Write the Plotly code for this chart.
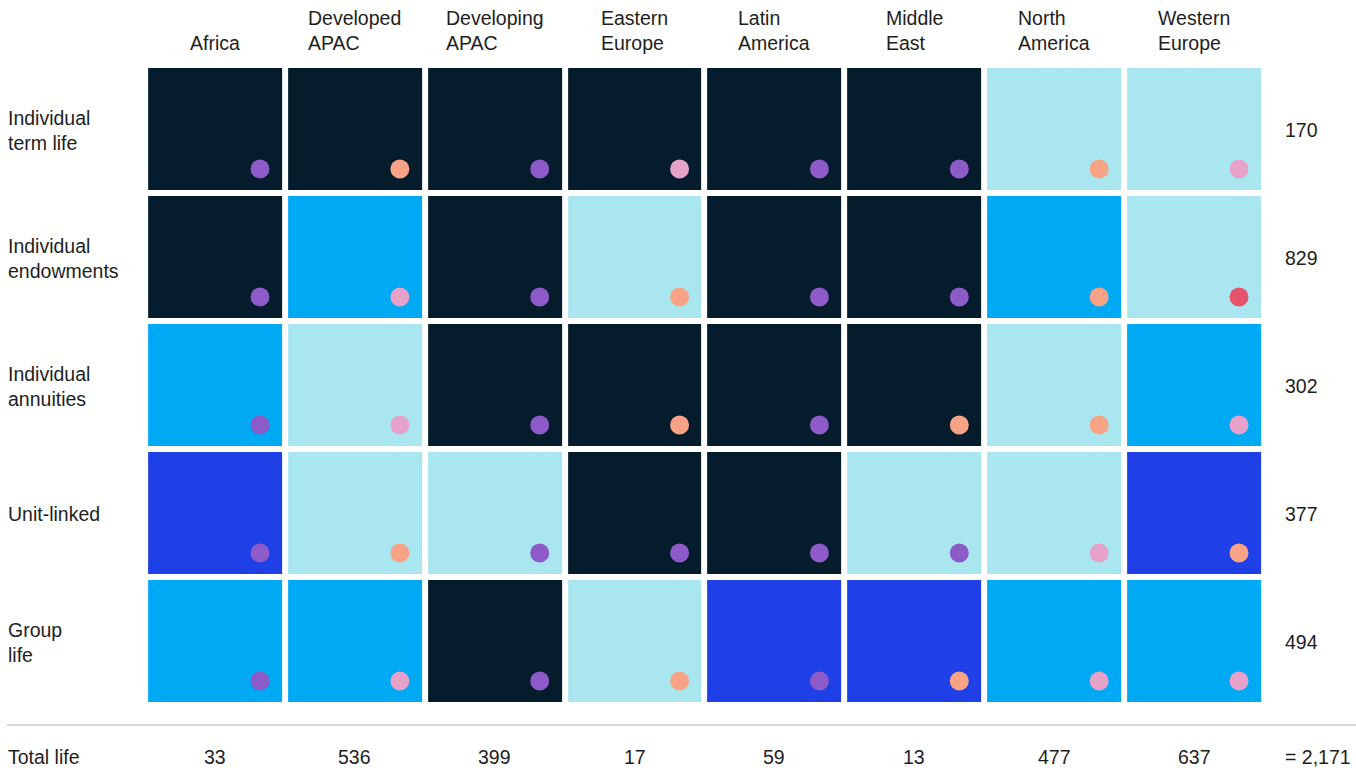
import plotly.graph_objects as go

regions = ["Africa", "Developed<br>APAC", "Developing<br>APAC", "Eastern<br>Europe",
           "Latin<br>America", "Middle<br>East", "North<br>America", "Western<br>Europe"]
products = ["Individual<br>term life", "Individual<br>endowments", "Individual<br>annuities",
            "Unit-linked", "Group<br>life"]
product_totals = ["170", "829", "302", "377", "494"]
region_totals = ["33", "536", "399", "17", "59", "13", "477", "637"]
grand_total = "= 2,171"

# cell category: 0 dark, 1 light, 2 cyan, 3 blue
cells = [
    [0, 0, 0, 0, 0, 0, 1, 1],
    [0, 2, 0, 1, 0, 0, 2, 1],
    [2, 1, 0, 0, 0, 0, 1, 2],
    [3, 1, 1, 0, 0, 1, 1, 3],
    [2, 2, 0, 1, 3, 3, 2, 2],
]
# dot category: P purple, S salmon, K pink, R red
dots = [
    ["P", "S", "P", "K", "P", "P", "S", "K"],
    ["P", "K", "P", "S", "P", "P", "S", "R"],
    ["P", "K", "P", "S", "P", "S", "S", "K"],
    ["P", "S", "P", "P", "P", "P", "K", "S"],
    ["P", "K", "P", "S", "P", "S", "K", "K"],
]

cell_colors = ["#051C2C", "#AAE6F0", "#00A9F4", "#1F40E6"]
dot_colors = {"P": "#8C5BC8", "S": "#F8A385", "K": "#E6A2C8", "R": "#E5546C"}
text_color = "#1E1E1E"
FONT = "Liberation Sans, Arial, sans-serif"
FS = 19.5

W, H = 1356, 770
px_x = 139.86
px_y = 128.0
x0 = -215 / px_x
x1 = x0 + W / px_x
ytop = -129 / px_y
ybot = ytop + H / px_y

fig = go.Figure()

colorscale = [[0, cell_colors[0]], [1/3, cell_colors[1]], [2/3, cell_colors[2]], [1, cell_colors[3]]]
fig.add_trace(go.Heatmap(
    z=cells, x=list(range(len(regions))), y=list(range(len(products))),
    colorscale=colorscale, zmin=0, zmax=3, showscale=False,
    xgap=6, ygap=6, hoverinfo="skip"))

dx = 45 / px_x
dy = 40 / px_y
for key, col in dot_colors.items():
    xs, ys = [], []
    for j, row in enumerate(dots):
        for i, d in enumerate(row):
            if d == key:
                xs.append(i + dx)
                ys.append(j + dy)
    fig.add_trace(go.Scatter(x=xs, y=ys, mode="markers",
                             marker=dict(size=19, color=col, line=dict(width=0)),
                             hoverinfo="skip", showlegend=False))

annotations = []
for i, r in enumerate(regions):
    annotations.append(dict(x=i, y=ytop + 56 / px_y, xref="x", yref="y", text=r,
                            showarrow=False, xanchor="center", yanchor="bottom", align="left",
                            font=dict(size=FS, color=text_color, family=FONT)))
    annotations.append(dict(x=i, y=ytop + 757 / px_y, xref="x", yref="y", text=region_totals[i],
                            showarrow=False, xanchor="center", yanchor="middle",
                            font=dict(size=FS, color=text_color, family=FONT)))
for j, p in enumerate(products):
    annotations.append(dict(x=6 / W, y=j + 1 / px_y, xref="paper", yref="y", text=p,
                            showarrow=False, xanchor="left", yanchor="middle", align="left",
                            font=dict(size=FS, color=text_color, family=FONT)))
    annotations.append(dict(x=1283 / W, y=j + 1 / px_y, xref="paper", yref="y", text=product_totals[j],
                            showarrow=False, xanchor="left", yanchor="middle", align="left",
                            font=dict(size=FS, color=text_color, family=FONT)))
annotations.append(dict(x=6 / W, y=ytop + 757 / px_y, xref="paper", yref="y", text="Total life",
                        showarrow=False, xanchor="left", yanchor="middle",
                        font=dict(size=FS, color=text_color, family=FONT)))
annotations.append(dict(x=1283 / W, y=ytop + 757 / px_y, xref="paper", yref="y", text=grand_total,
                        showarrow=False, xanchor="left", yanchor="middle",
                        font=dict(size=FS, color=text_color, family=FONT)))

fig.add_shape(type="line", xref="paper", yref="y", x0=7 / W, x1=1,
              y0=ytop + 725 / px_y, y1=ytop + 725 / px_y,
              line=dict(color="#D9D9D9", width=2))

fig.update_layout(
    width=W, height=H, margin=dict(l=0, r=0, t=0, b=0),
    paper_bgcolor="white", plot_bgcolor="white", showlegend=False,
    xaxis=dict(range=[x0, x1], visible=False, fixedrange=True),
    yaxis=dict(range=[ybot, ytop], visible=False, fixedrange=True),
    annotations=annotations,
)

fig.write_html("out.html")
